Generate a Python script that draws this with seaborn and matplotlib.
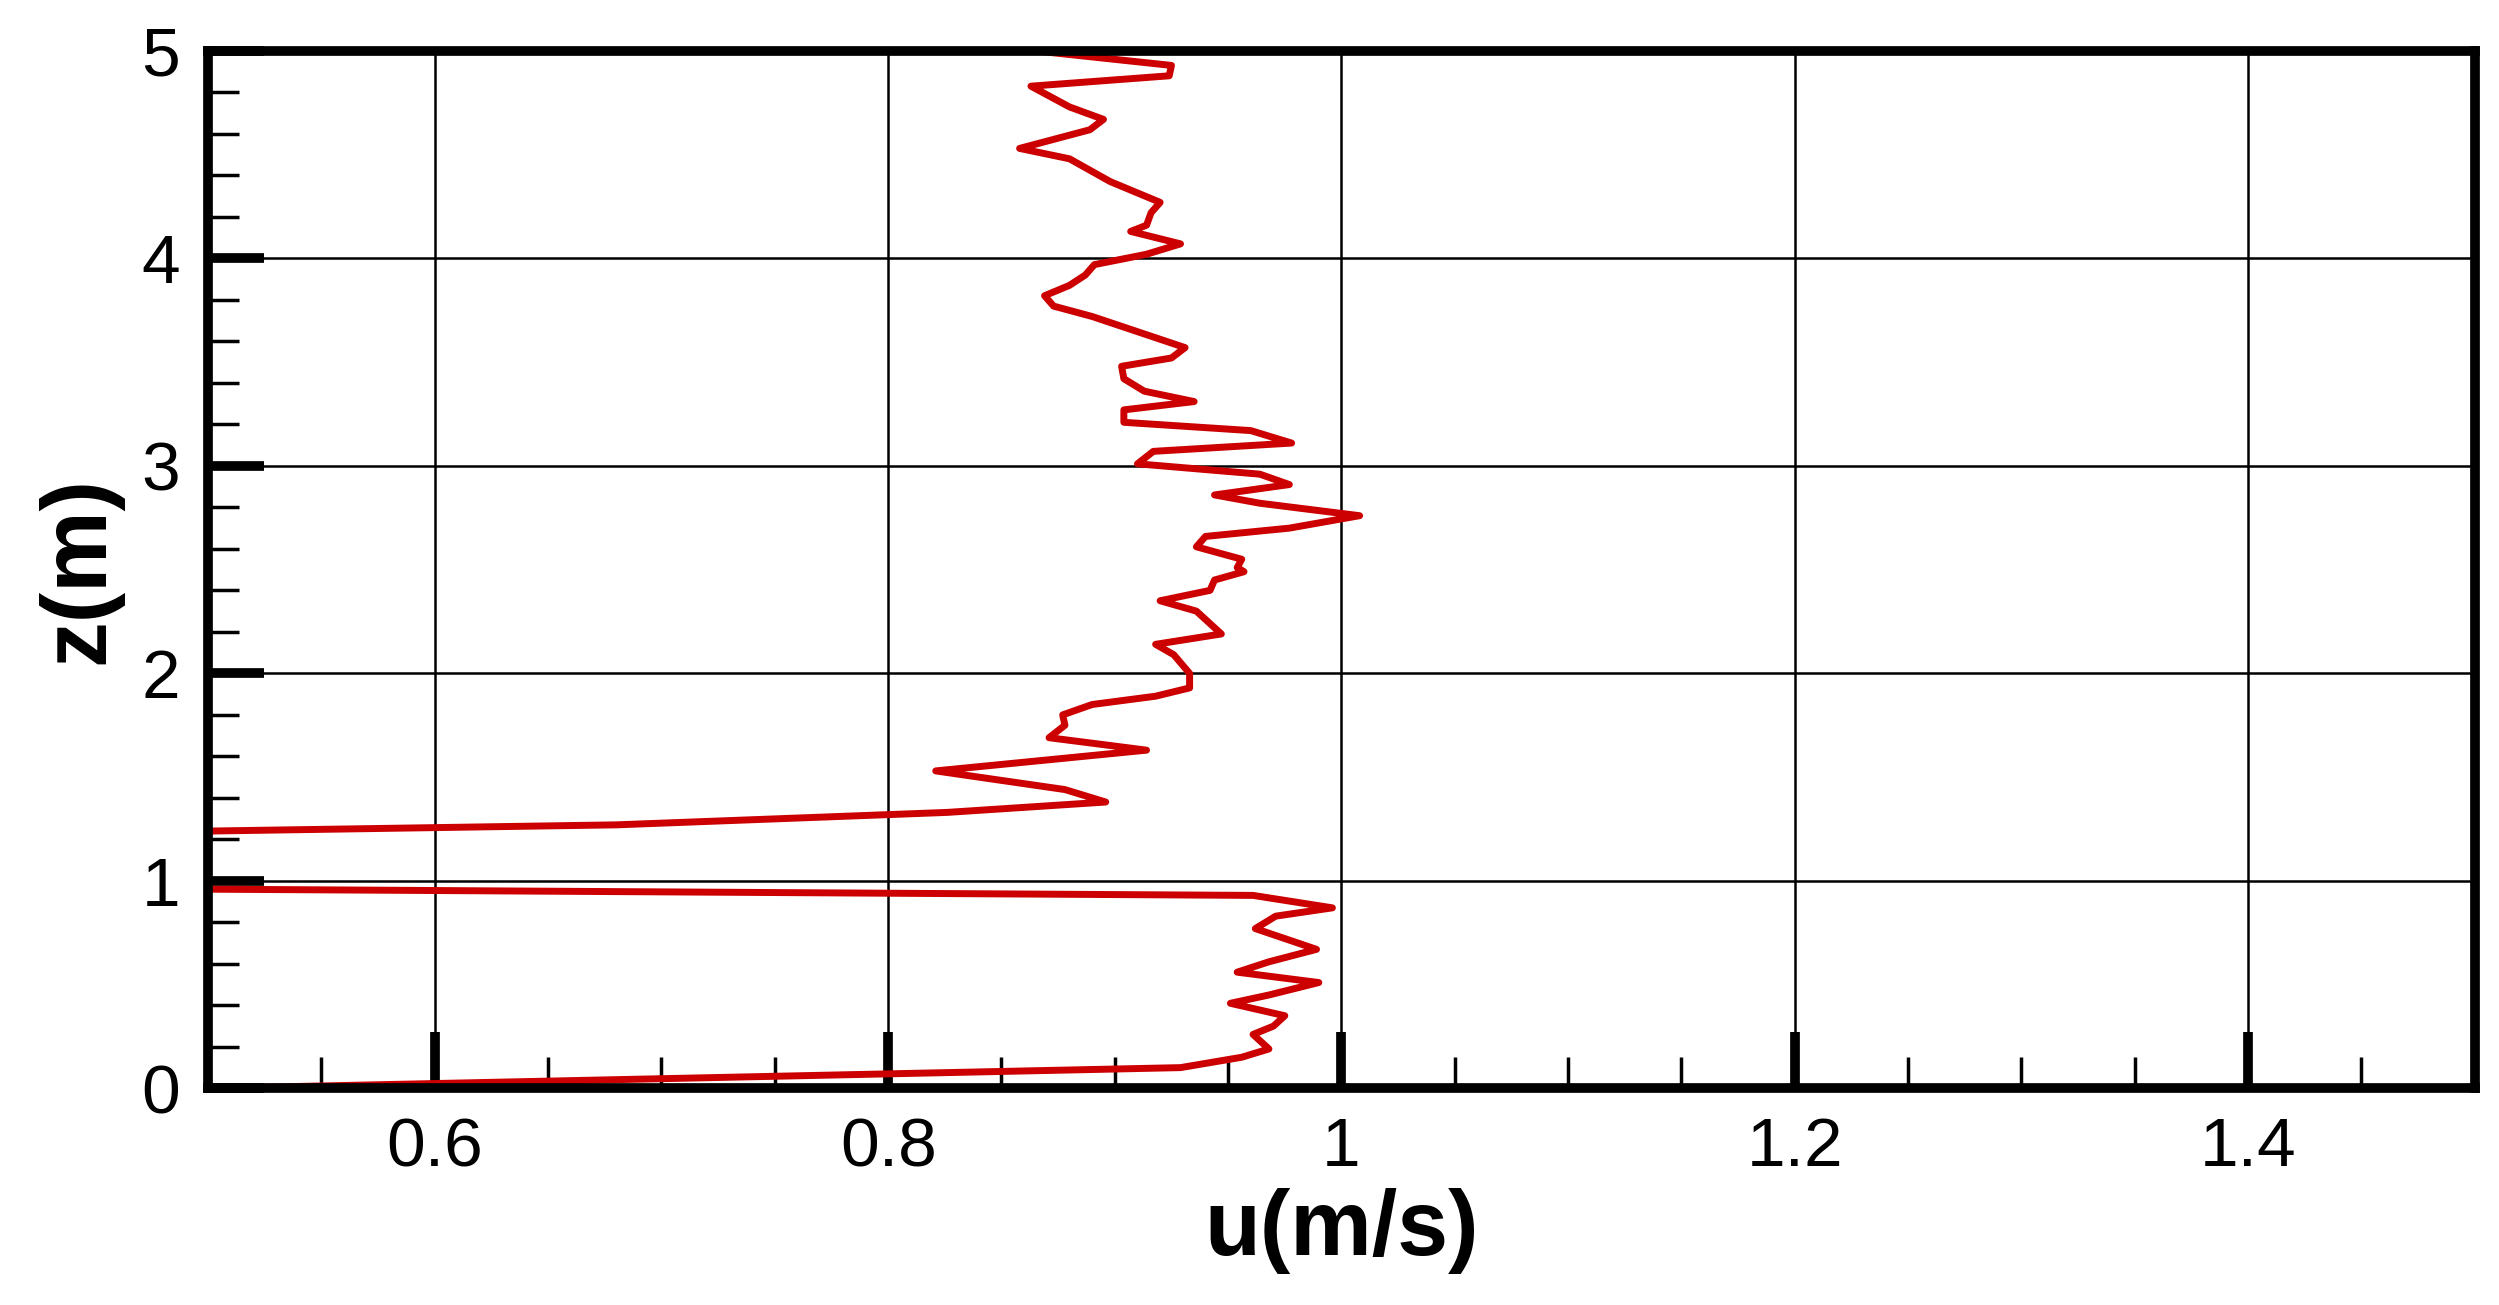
import matplotlib
matplotlib.use("Agg")
import matplotlib.pyplot as plt
import seaborn as sns
import pandas as pd
from matplotlib.ticker import MultipleLocator, FuncFormatter

u = [0.50, 0.929, 0.956, 0.968, 0.961, 0.970, 0.975, 0.951, 0.968, 0.990, 0.954, 0.968, 0.989,
     0.962, 0.971, 0.996, 0.961, 0.50, 0.50, 0.68, 0.826, 0.896, 0.878, 0.821, 0.914, 0.871, 0.878,
     0.877, 0.890, 0.918, 0.933, 0.933, 0.926, 0.918, 0.947, 0.936, 0.920, 0.942, 0.944, 0.957,
     0.954, 0.956, 0.936, 0.940, 0.977, 1.008, 0.964, 0.944, 0.977, 0.964,
     0.910, 0.917, 0.978, 0.960, 0.904, 0.904, 0.935, 0.913, 0.904, 0.903, 0.925, 0.931, 0.890,
     0.873, 0.869, 0.880, 0.887, 0.891, 0.914, 0.929, 0.907, 0.914, 0.916, 0.920, 0.898, 0.880,
     0.858, 0.889, 0.895, 0.880, 0.863, 0.924, 0.925, 0.865]
z = [0.00, 0.10, 0.15, 0.19, 0.26, 0.30, 0.35, 0.41, 0.45, 0.51, 0.56, 0.61, 0.67,
     0.77, 0.83, 0.87, 0.93, 0.96, 1.24, 1.27, 1.33, 1.38, 1.44, 1.53, 1.63, 1.69, 1.75,
     1.80, 1.85, 1.89, 1.93, 2.00, 2.09, 2.14, 2.19, 2.30, 2.35, 2.40, 2.45, 2.49,
     2.51, 2.55, 2.61, 2.66, 2.70, 2.76, 2.82, 2.86, 2.91, 2.96,
     3.01, 3.07, 3.11, 3.17, 3.21, 3.27, 3.31, 3.36, 3.42, 3.48, 3.52, 3.57, 3.72,
     3.77, 3.82, 3.87, 3.92, 3.97, 4.02, 4.07, 4.13, 4.16, 4.22, 4.27, 4.37, 4.48,
     4.53, 4.62, 4.67, 4.73, 4.83, 4.88, 4.93, 5.00]
df = pd.DataFrame({"u": u, "z": z})

sns.set_style("white")
plt.rcParams['font.family'] = ['Liberation Sans', 'DejaVu Sans']

fig = plt.figure(figsize=(24.99, 13.05), dpi=100)
ax = fig.add_axes([0.0833, 0.166, 0.907, 0.795])
sns.lineplot(data=df, x="u", y="z", sort=False, estimator=None, color="#cc0000", lw=5, ax=ax)
ax.set_xlim(0.5, 1.5)
ax.set_ylim(0, 5)
ax.xaxis.set_major_locator(MultipleLocator(0.2))
ax.xaxis.set_minor_locator(MultipleLocator(0.05))
ax.yaxis.set_major_locator(MultipleLocator(1))
ax.yaxis.set_minor_locator(MultipleLocator(0.2))
ax.xaxis.set_major_formatter(FuncFormatter(lambda v, p: f"{v:g}"))
ax.grid(True, which="major", color="black", lw=1.8)
ax.tick_params(which="major", direction="in", length=40, width=7, labelsize=50, pad=20,
               bottom=True, left=True, top=False, right=False, colors="black")
ax.tick_params(which="minor", direction="in", length=22, width=2.5,
               bottom=True, left=True, top=False, right=False, colors="black")
for s in ax.spines.values():
    s.set_linewidth(7)
    s.set_color("black")
ax.set_xlabel("u(m/s)", fontsize=66, fontweight="bold", labelpad=6, color="black")
ax.set_ylabel("z(m)", fontsize=66, fontweight="bold", labelpad=14, color="black")
fig.savefig("out.png", dpi=100)
